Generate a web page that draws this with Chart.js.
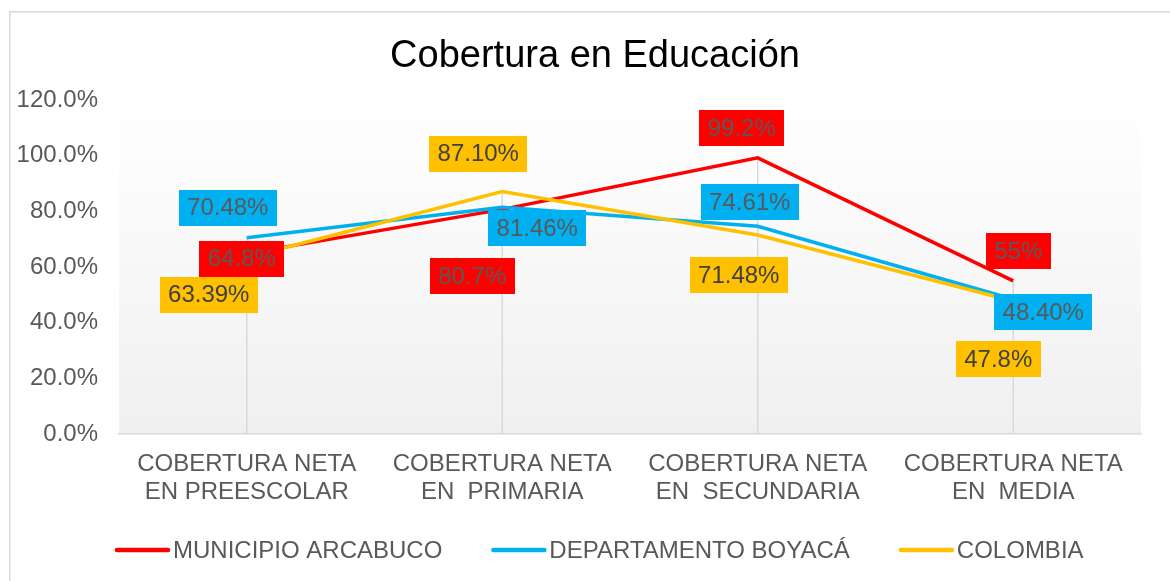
<!DOCTYPE html>
<html>
<head>
<meta charset="utf-8">
<script src="https://cdn.jsdelivr.net/npm/chart.js@4.4.1/dist/chart.umd.min.js"></script>
<style>
  html, body { margin: 0; padding: 0; background: #ffffff; }
  #wrap { width: 1170px; height: 581px; position: relative; }
</style>
</head>
<body>
<div id="wrap"><canvas id="c" width="1170" height="581"></canvas></div>
<script>
// ---- Data ----
const chartTitle = "Cobertura en Educación";
const categories = [
  ["COBERTURA NETA", "EN PREESCOLAR"],
  ["COBERTURA NETA", "EN  PRIMARIA"],
  ["COBERTURA NETA", "EN  SECUNDARIA"],
  ["COBERTURA NETA", "EN  MEDIA"]
];
const seriesNames = ["MUNICIPIO ARCABUCO", "DEPARTAMENTO BOYACÁ", "COLOMBIA"];
const municipioArcabuco = [64.8, 80.7, 99.2, 55];
const departamentoBoyaca = [70.48, 81.46, 74.61, 48.40];
const colombia = [63.39, 87.10, 71.48, 47.8];
const municipioLabels = ["64.8%", "80.7%", "99.2%", "55%"];
const boyacaLabels = ["70.48%", "81.46%", "74.61%", "48.40%"];
const colombiaLabels = ["63.39%", "87.10%", "71.48%", "47.8%"];
const yTicks = { min: 0, max: 120, step: 20 };

// ---- Styles ----
const FONT = "'Liberation Sans', Arial, sans-serif";
const colors = ["#FF0000", "#00B0F0", "#FFC000"];
const labelTextColors = ["#595959", "#595959", "#404040"];
// label box centre offsets from each point (px)
const labelOffsets = [
  [[-5, 5], [-30, 67], [-16, -30], [5, -30]],
  [[-19, -30], [35, 21], [-8, -24], [30, 13]],
  [[-38, 37], [-24, -38], [-19, 40], [-15, 58]]
];

const backgroundPlugin = {
  id: 'bg',
  beforeDraw(chart) {
    const ctx = chart.ctx, a = chart.chartArea;
    ctx.save();
    ctx.fillStyle = '#ffffff';
    ctx.fillRect(0, 0, chart.width, chart.height);
    ctx.strokeStyle = '#d9d9d9';
    ctx.lineWidth = 1.5;
    ctx.strokeRect(9.75, 11.75, chart.width + 20, chart.height + 20);
    const g = ctx.createLinearGradient(0, a.top, 0, a.bottom);
    g.addColorStop(0, '#ffffff');
    g.addColorStop(1, '#f0f0f0');
    ctx.fillStyle = g;
    ctx.fillRect(a.left, a.top, a.right - a.left, a.bottom - a.top);
    // title
    ctx.fillStyle = '#000000';
    ctx.font = "38px " + FONT;
    ctx.textAlign = 'center';
    ctx.textBaseline = 'alphabetic';
    ctx.fillText(chartTitle, 595, 67);
    ctx.restore();
  },
  beforeDatasetsDraw(chart) {
    // drop lines from highest point down to the axis
    const ctx = chart.ctx, xs = chart.scales.x, ys = chart.scales.y;
    ctx.save();
    ctx.strokeStyle = '#d9d9d9';
    ctx.lineWidth = 1.5;
    categories.forEach((c, i) => {
      const maxV = Math.max(...chart.data.datasets.map(d => d.data[i]));
      const x = xs.getPixelForValue(i);
      ctx.beginPath();
      ctx.moveTo(x, ys.getPixelForValue(maxV));
      ctx.lineTo(x, ys.getPixelForValue(0));
      ctx.stroke();
    });
    ctx.restore();
  }
};

const labelsPlugin = {
  id: 'boxLabels',
  afterDatasetsDraw(chart) {
    const ctx = chart.ctx, xs = chart.scales.x, ys = chart.scales.y;
    ctx.save();
    ctx.font = "24px " + FONT;
    ctx.textAlign = 'center';
    ctx.textBaseline = 'middle';
    chart.data.datasets.forEach((ds, si) => {
      ds.data.forEach((v, i) => {
        const txt = ds.valueLabels[i];
        const cx = xs.getPixelForValue(i) + labelOffsets[si][i][0];
        const cy = ys.getPixelForValue(v) + labelOffsets[si][i][1];
        const w = ctx.measureText(txt).width + 17;
        const h = 36;
        ctx.fillStyle = colors[si];
        ctx.fillRect(Math.round(cx - w / 2), Math.round(cy - h / 2), Math.round(w), h);
        ctx.fillStyle = labelTextColors[si];
        ctx.fillText(txt, cx, cy + 1);
      });
    });
    ctx.restore();
  }
};

const legendPlugin = {
  id: 'customLegend',
  afterDraw(chart) {
    const ctx = chart.ctx;
    ctx.save();
    ctx.font = "24px " + FONT;
    ctx.textBaseline = 'middle';
    ctx.textAlign = 'left';
    let x = 115;
    const y = 550;
    chart.data.datasets.forEach((ds, si) => {
      ctx.strokeStyle = colors[si];
      ctx.lineWidth = 4.5;
      ctx.lineCap = 'round';
      ctx.beginPath();
      ctx.moveTo(x + 2, y);
      ctx.lineTo(x + 53, y);
      ctx.stroke();
      x += 58;
      ctx.fillStyle = '#595959';
      ctx.fillText(ds.label, x, y + 1);
      x += ctx.measureText(ds.label).width + 49;
    });
    ctx.restore();
  }
};

const valueSets = [municipioArcabuco, departamentoBoyaca, colombia];
const labelSets = [municipioLabels, boyacaLabels, colombiaLabels];

new Chart(document.getElementById('c'), {
  type: 'line',
  data: {
    labels: categories,
    datasets: seriesNames.map((name, si) => ({
      label: name,
      data: valueSets[si],
      valueLabels: labelSets[si],
      borderColor: colors[si],
      backgroundColor: colors[si],
      borderWidth: 3.5,
      pointRadius: 0,
      tension: 0,
      fill: false,
      order: 2 - si
    }))
  },
  options: {
    responsive: false,
    animation: false,
    devicePixelRatio: 1,
    layout: { padding: { top: 100, left: 16, right: 29, bottom: 77 } },
    plugins: {
      legend: { display: false },
      tooltip: { enabled: false },
      title: { display: false }
    },
    scales: {
      x: {
        offset: true,
        grid: { display: false, drawTicks: false },
        border: { display: true, color: '#d9d9d9', width: 1.5 },
        ticks: {
          color: '#595959',
          padding: 17,
          maxRotation: 0,
          autoSkip: false,
          font: { family: FONT, size: 24, lineHeight: 1.15 }
        },
        afterFit(s) { s.paddingLeft = 0; s.paddingRight = 0; s.height = 70; }
      },
      y: {
        min: yTicks.min,
        max: yTicks.max,
        grid: { display: false, drawTicks: false },
        border: { display: false },
        ticks: {
          stepSize: yTicks.step,
          color: '#595959',
          padding: 21,
          font: { family: FONT, size: 24 },
          callback: v => v.toFixed(1) + '%'
        },
        afterFit(s) { s.width = 103; s.paddingTop = 0; s.paddingBottom = 0; }
      }
    }
  },
  plugins: [backgroundPlugin, labelsPlugin, legendPlugin]
});
</script>
</body>
</html>
